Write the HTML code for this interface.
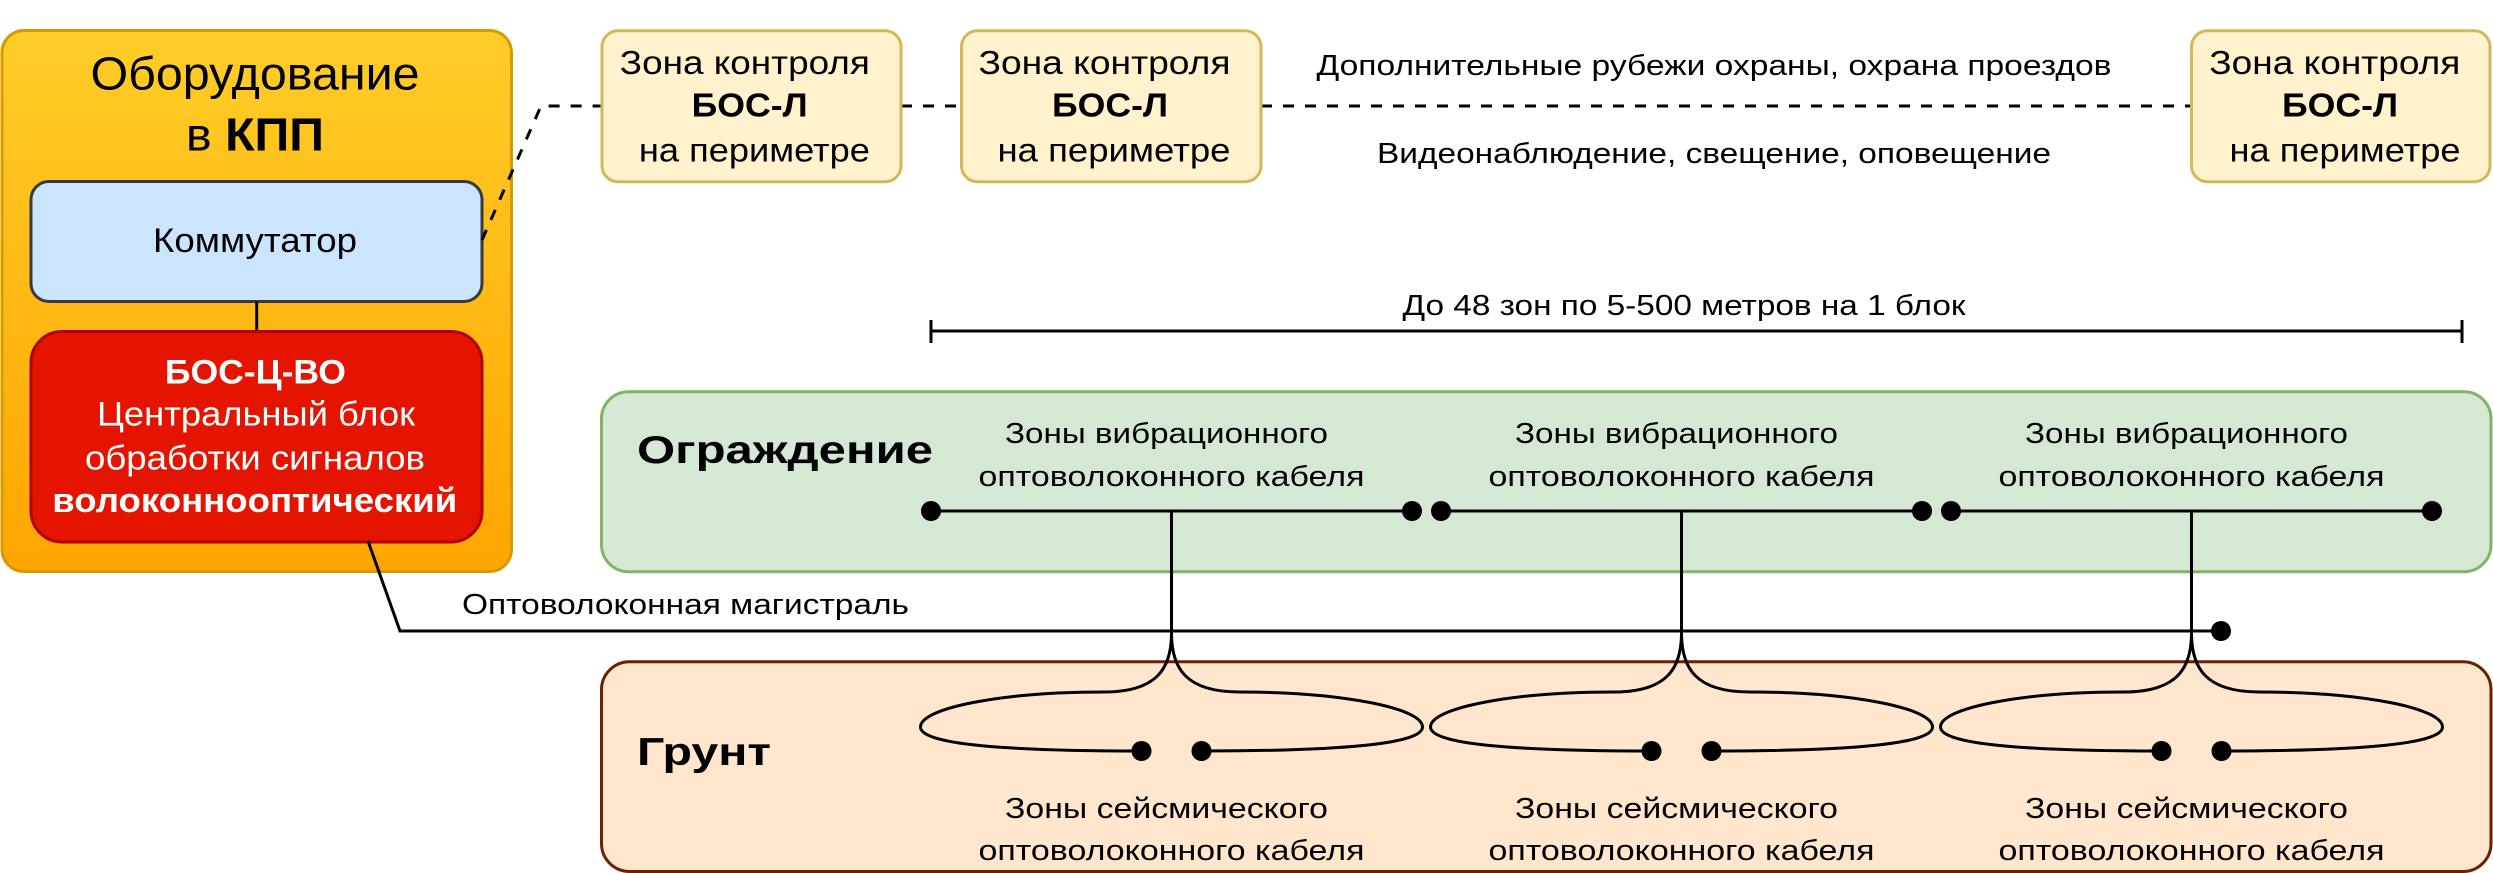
<!DOCTYPE html>
<html>
<head>
<meta charset="utf-8">
<style>
html,body{margin:0;padding:0;background:#fff;}
svg{display:block;}
text{font-family:"Liberation Sans",Arial,sans-serif;fill:#000;}
</style>
</head>
<body>
<svg width="2493" height="873" viewBox="0 0 2493 873" xmlns="http://www.w3.org/2000/svg">
<defs>
<linearGradient id="og" x1="0" y1="0" x2="0" y2="1">
<stop offset="0" stop-color="#ffcd28"/>
<stop offset="1" stop-color="#ffa500"/>
</linearGradient>
</defs>

<!-- Orange container -->
<rect x="2" y="30.5" width="509.5" height="541" rx="22" fill="url(#og)" stroke="#d79b00" stroke-width="3"/>
<text x="255" y="89.6" font-size="46" text-anchor="middle" textLength="329" lengthAdjust="spacingAndGlyphs">Оборудование</text>
<text x="255" y="150.4" font-size="46" text-anchor="middle" textLength="138" lengthAdjust="spacingAndGlyphs">в <tspan font-weight="bold">КПП</tspan></text>

<!-- Kommutator -->
<rect x="31" y="181.5" width="451" height="120" rx="18" fill="#cce5ff" stroke="#36393d" stroke-width="3"/>
<text x="255" y="252" font-size="34" text-anchor="middle" textLength="204" lengthAdjust="spacingAndGlyphs">Коммутатор</text>

<line x1="256.7" y1="301.5" x2="256.7" y2="331.5" stroke="#000" stroke-width="3"/>

<!-- Red box -->
<rect x="31" y="331.5" width="451" height="210.5" rx="31" fill="#e51400" stroke="#b20000" stroke-width="3"/>
<text x="255.4" y="383.6" font-size="34" font-weight="bold" text-anchor="middle" textLength="181" lengthAdjust="spacingAndGlyphs" style="fill:#fff">БОС-Ц-ВО</text>
<text x="256" y="425.4" font-size="34" text-anchor="middle" textLength="318" lengthAdjust="spacingAndGlyphs" style="fill:#fff">Центральный блок</text>
<text x="255" y="469.3" font-size="34" text-anchor="middle" textLength="340" lengthAdjust="spacingAndGlyphs" style="fill:#fff">обработки сигналов</text>
<text x="254.8" y="512" font-size="34" font-weight="bold" text-anchor="middle" textLength="405" lengthAdjust="spacingAndGlyphs" style="fill:#fff">волоконнооптический</text>

<!-- Dashed links -->
<polyline points="482,240 541,106 602,106" fill="none" stroke="#000" stroke-width="3" stroke-dasharray="11 11"/>
<line x1="901" y1="106" x2="961" y2="106" stroke="#000" stroke-width="3" stroke-dasharray="11 11"/>
<line x1="1261" y1="106" x2="2191.5" y2="106" stroke="#000" stroke-width="3" stroke-dasharray="11 11"/>

<!-- Yellow boxes -->
<rect x="602" y="30.7" width="299" height="151" rx="16" fill="#fff2cc" stroke="#d6b656" stroke-width="3"/>
<text x="744.8" y="74" font-size="33" text-anchor="middle" textLength="250" lengthAdjust="spacingAndGlyphs">Зона контроля</text>
<text x="749.6" y="116.7" font-size="33" font-weight="bold" text-anchor="middle" textLength="116" lengthAdjust="spacingAndGlyphs">БОС-Л</text>
<text x="754.4" y="161.7" font-size="33" text-anchor="middle" textLength="231" lengthAdjust="spacingAndGlyphs">на периметре</text>

<rect x="961.5" y="30.7" width="299.5" height="151" rx="16" fill="#fff2cc" stroke="#d6b656" stroke-width="3"/>
<text x="1104.5" y="74" font-size="33" text-anchor="middle" textLength="252" lengthAdjust="spacingAndGlyphs">Зона контроля</text>
<text x="1110" y="116.7" font-size="33" font-weight="bold" text-anchor="middle" textLength="116" lengthAdjust="spacingAndGlyphs">БОС-Л</text>
<text x="1114" y="161.7" font-size="33" text-anchor="middle" textLength="233" lengthAdjust="spacingAndGlyphs">на периметре</text>

<rect x="2191.5" y="30.7" width="298.5" height="151" rx="16" fill="#fff2cc" stroke="#d6b656" stroke-width="3"/>
<text x="2334.8" y="74" font-size="33" text-anchor="middle" textLength="251" lengthAdjust="spacingAndGlyphs">Зона контроля</text>
<text x="2340" y="116.7" font-size="33" font-weight="bold" text-anchor="middle" textLength="116" lengthAdjust="spacingAndGlyphs">БОС-Л</text>
<text x="2345" y="161.7" font-size="33" text-anchor="middle" textLength="231" lengthAdjust="spacingAndGlyphs">на периметре</text>

<!-- Annotations -->
<text x="1714" y="75" font-size="29" text-anchor="middle" textLength="795" lengthAdjust="spacingAndGlyphs">Дополнительные рубежи охраны, охрана проездов</text>
<text x="1714" y="163" font-size="29" text-anchor="middle" textLength="674" lengthAdjust="spacingAndGlyphs">Видеонаблюдение, свещение, оповещение</text>

<!-- Dimension -->
<text x="1684" y="315" font-size="29" text-anchor="middle" textLength="563" lengthAdjust="spacingAndGlyphs">До 48 зон по 5-500 метров на 1 блок</text>
<line x1="931" y1="331" x2="2462" y2="331" stroke="#000" stroke-width="3"/>
<line x1="931" y1="320" x2="931" y2="343" stroke="#000" stroke-width="3"/>
<line x1="2462" y1="320" x2="2462" y2="343" stroke="#000" stroke-width="3"/>

<!-- Green fence box -->
<rect x="601.5" y="391.7" width="1889.5" height="180" rx="27" fill="#d5e8d4" stroke="#82b366" stroke-width="3"/>
<text x="637" y="463" font-size="39" font-weight="bold" textLength="296" lengthAdjust="spacingAndGlyphs">Ограждение</text>

<!-- Ground box -->
<rect x="601.5" y="661.7" width="1889.5" height="209.8" rx="28" fill="#ffe6cc" stroke="#6d1f00" stroke-width="3"/>
<text x="637" y="765" font-size="39" font-weight="bold" textLength="134" lengthAdjust="spacingAndGlyphs">Грунт</text>

<!-- Fence labels -->
<g font-size="28.5" text-anchor="middle">
<text x="1166.5" y="443" textLength="323" lengthAdjust="spacingAndGlyphs">Зоны вибрационного</text>
<text x="1171.5" y="486" textLength="386" lengthAdjust="spacingAndGlyphs">оптоволоконного кабеля</text>
<text x="1676.5" y="443" textLength="323" lengthAdjust="spacingAndGlyphs">Зоны вибрационного</text>
<text x="1681.5" y="486" textLength="386" lengthAdjust="spacingAndGlyphs">оптоволоконного кабеля</text>
<text x="2186.5" y="443" textLength="323" lengthAdjust="spacingAndGlyphs">Зоны вибрационного</text>
<text x="2191.5" y="486" textLength="386" lengthAdjust="spacingAndGlyphs">оптоволоконного кабеля</text>

<text x="1166.5" y="818" textLength="323" lengthAdjust="spacingAndGlyphs">Зоны сейсмического</text>
<text x="1171.5" y="860" textLength="386" lengthAdjust="spacingAndGlyphs">оптоволоконного кабеля</text>
<text x="1676.5" y="818" textLength="323" lengthAdjust="spacingAndGlyphs">Зоны сейсмического</text>
<text x="1681.5" y="860" textLength="386" lengthAdjust="spacingAndGlyphs">оптоволоконного кабеля</text>
<text x="2186.5" y="818" textLength="323" lengthAdjust="spacingAndGlyphs">Зоны сейсмического</text>
<text x="2191.5" y="860" textLength="386" lengthAdjust="spacingAndGlyphs">оптоволоконного кабеля</text>
</g>

<!-- Trunk -->
<text x="462" y="614" font-size="29" textLength="447" lengthAdjust="spacingAndGlyphs">Оптоволоконная магистраль</text>
<polyline points="368,541 400,631 2221,631" fill="none" stroke="#000" stroke-width="3"/>
<circle cx="2221" cy="631" r="10" fill="#000"/>

<!-- Fence segments -->
<g stroke="#000" stroke-width="3" fill="none">
<line x1="931" y1="511" x2="1412" y2="511"/>
<line x1="1441" y1="511" x2="1922" y2="511"/>
<line x1="1951" y1="511" x2="2432" y2="511"/>
<line x1="1171.5" y1="511" x2="1171.5" y2="633"/>
<line x1="1681.5" y1="511" x2="1681.5" y2="633"/>
<line x1="2191.5" y1="511" x2="2191.5" y2="633"/>

<path d="M1171.5,633 C1171.5,668 1185.5,692 1239.5,692 C1341.5,692 1422.5,708 1422.5,727 C1422.5,744 1341.5,751 1201.5,751"/>
<path d="M1171.5,633 C1171.5,668 1157.5,692 1103.5,692 C1001.5,692 920.5,708 920.5,727 C920.5,744 1001.5,751 1141.5,751"/>

<path d="M1681.5,633 C1681.5,668 1695.5,692 1749.5,692 C1851.5,692 1932.5,708 1932.5,727 C1932.5,744 1851.5,751 1711.5,751"/>
<path d="M1681.5,633 C1681.5,668 1667.5,692 1613.5,692 C1511.5,692 1430.5,708 1430.5,727 C1430.5,744 1511.5,751 1651.5,751"/>

<path d="M2191.5,633 C2191.5,668 2205.5,692 2259.5,692 C2361.5,692 2442.5,708 2442.5,727 C2442.5,744 2361.5,751 2221.5,751"/>
<path d="M2191.5,633 C2191.5,668 2177.5,692 2123.5,692 C2021.5,692 1940.5,708 1940.5,727 C1940.5,744 2021.5,751 2161.5,751"/>
</g>

<g fill="#000">
<circle cx="931" cy="511" r="10"/>
<circle cx="1412" cy="511" r="10"/>
<circle cx="1441" cy="511" r="10"/>
<circle cx="1922" cy="511" r="10"/>
<circle cx="1951" cy="511" r="10"/>
<circle cx="2432" cy="511" r="10"/>

<circle cx="1141.5" cy="751" r="10"/>
<circle cx="1201.5" cy="751" r="10"/>
<circle cx="1651.5" cy="751" r="10"/>
<circle cx="1711.5" cy="751" r="10"/>
<circle cx="2161.5" cy="751" r="10"/>
<circle cx="2221.5" cy="751" r="10"/>
</g>
</svg>
</body>
</html>
